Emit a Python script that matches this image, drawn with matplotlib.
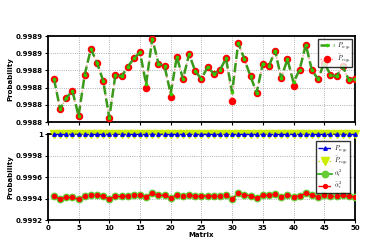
import numpy as np
import matplotlib
matplotlib.use("Agg")
import matplotlib.pyplot as plt
from matplotlib.ticker import FormatStrFormatter

x = np.arange(1, 51)

p_reg = [0.998830, 0.998795, 0.998808, 0.998816, 0.998787, 0.998835, 0.998865, 0.998849, 0.998828, 0.998785,
         0.998835, 0.998833, 0.998844, 0.998854, 0.998861, 0.998824, 0.998877, 0.998848, 0.998845, 0.998813,
         0.998856, 0.998830, 0.998859, 0.998839, 0.998830, 0.998844, 0.998836, 0.998840, 0.998854, 0.998815,
         0.998872, 0.998853, 0.998833, 0.998814, 0.998848, 0.998845, 0.998863, 0.998831, 0.998853, 0.998826,
         0.998841, 0.998870, 0.998840, 0.998830, 0.998849, 0.998835, 0.998833, 0.998845, 0.998829, 0.998830]
p_reg_bar = [0.998830, 0.998795, 0.998808, 0.998816, 0.998787, 0.998835, 0.998865, 0.998849, 0.998828, 0.998785,
             0.998835, 0.998833, 0.998844, 0.998854, 0.998861, 0.998820, 0.998877, 0.998848, 0.998845, 0.998809,
             0.998856, 0.998830, 0.998859, 0.998839, 0.998830, 0.998844, 0.998836, 0.998840, 0.998854, 0.998804,
             0.998872, 0.998853, 0.998833, 0.998814, 0.998848, 0.998845, 0.998863, 0.998831, 0.998853, 0.998822,
             0.998841, 0.998870, 0.998840, 0.998830, 0.998849, 0.998835, 0.998833, 0.998845, 0.998829, 0.998830]

p_reg_b = [1.0] * 50
p_reg_bar_b = [1.0] * 50
alpha_vals = [0.999419, 0.999397, 0.999410, 0.999410, 0.999394, 0.999419, 0.999435, 0.999429, 0.999419, 0.999394,
              0.999419, 0.999419, 0.999425, 0.999429, 0.999435, 0.999416, 0.999447, 0.999429, 0.999429, 0.999406,
              0.999429, 0.999419, 0.999429, 0.999422, 0.999419, 0.999425, 0.999422, 0.999422, 0.999429, 0.999397,
              0.999447, 0.999435, 0.999425, 0.999403, 0.999429, 0.999429, 0.999438, 0.999416, 0.999435, 0.999416,
              0.999425, 0.999447, 0.999432, 0.999416, 0.999429, 0.999419, 0.999422, 0.999429, 0.999419, 0.999416]
alpha_bar = list(alpha_vals)

plt.rcParams['font.family'] = ['DejaVu Sans']
plt.rcParams['mathtext.fontset'] = 'cm'

fig = plt.figure(figsize=(3.74, 2.45), dpi=100)
ax1 = fig.add_axes([0.128, 0.502, 0.821, 0.351])
ax2 = fig.add_axes([0.128, 0.102, 0.821, 0.351])

fs = 5.0
for ax in (ax1, ax2):
    ax.set_xlim(0, 50)
    ax.set_xticks(np.arange(0, 51, 5))
    ax.grid(True, linestyle=':', color='#999999', linewidth=0.6)
    for s in ax.spines.values():
        s.set_linewidth(1.3)
    ax.tick_params(labelsize=fs, length=2, width=0.8, pad=1.5)
    ax.set_ylabel('Probability', fontsize=fs, fontweight='bold', labelpad=2)

# top panel
ax1.plot(x, p_reg_bar, linestyle=':', color='#ff9090', linewidth=1.0, marker='o',
         markersize=4.4, markerfacecolor='red', markeredgecolor='red', zorder=3,
         label=r'$\bar{P}_{reg_k}$')
ax1.plot(x, p_reg, linestyle='--', color='#3a9a1a', linewidth=1.8, marker='o',
         markersize=1.6, markerfacecolor='#33cc00', markeredgecolor='#33cc00', zorder=4,
         label=r'$P_{reg_k}$')
ax1.set_ylim(0.99878, 0.99888)
ax1.set_yticks(np.arange(0.99878, 0.998881, 0.00002))
ax1.yaxis.set_major_formatter(FormatStrFormatter('%.4f'))
ax1.set_xticklabels([])
for lab in ax1.get_yticklabels():
    lab.set_fontweight('bold')
h, l = ax1.get_legend_handles_labels()
leg1 = ax1.legend(h[::-1], l[::-1], loc='upper right', fontsize=4.5, frameon=True,
                  fancybox=False, edgecolor='black', handlelength=2.2, borderpad=0.3,
                  labelspacing=0.2, handletextpad=0.4, borderaxespad=0.4)
leg1.get_frame().set_linewidth(1.0)

# bottom panel
ax2.plot(x, p_reg_b, linestyle='--', color='#0000cc', linewidth=1.0, marker='^',
         markersize=2.5, markerfacecolor='#0000ee', markeredgecolor='#0000ee', zorder=5,
         label=r'$P_{reg_k}$', clip_on=False)
ax2.plot(x, p_reg_bar_b, linestyle=':', color='#c8e000', linewidth=1.0, marker='v',
         markersize=5.2, markerfacecolor='#ccee00', markeredgecolor='#ccee00', zorder=4,
         label=r'$\bar{P}_{reg_k}$', clip_on=False)
ax2.plot(x, alpha_vals, linestyle='-', color='#22aa11', linewidth=1.2, marker='o',
         markersize=4.6, markerfacecolor='#66cc33', markeredgecolor='#66cc33', zorder=3,
         label=r'$\alpha_i^2$')
ax2.plot(x, alpha_bar, linestyle='--', color='red', linewidth=1.0, marker='o',
         markersize=2.8, markerfacecolor='red', markeredgecolor='red', zorder=4,
         label=r'$\bar{\alpha}_i^2$')
ax2.set_ylim(0.9992, 1.0)
ax2.set_yticks([0.9992, 0.9994, 0.9996, 0.9998, 1.0])
ax2.set_yticklabels(['0.9992', '0.9994', '0.9996', '0.9998', '1'])
for lab in ax2.get_yticklabels() + ax2.get_xticklabels():
    lab.set_fontweight('bold')
ax2.set_xlabel('Matrix', fontsize=fs, fontweight='bold', labelpad=1)
leg2 = ax2.legend(loc='upper right', fontsize=4.5, frameon=True, fancybox=False,
                  edgecolor='black', handlelength=2.2, borderpad=0.3, labelspacing=0.05,
                  handletextpad=0.4, bbox_to_anchor=(0.995, 0.95))
leg2.get_frame().set_linewidth(1.0)
leg2.set_zorder(6)

fig.savefig('out.png', dpi=100)
